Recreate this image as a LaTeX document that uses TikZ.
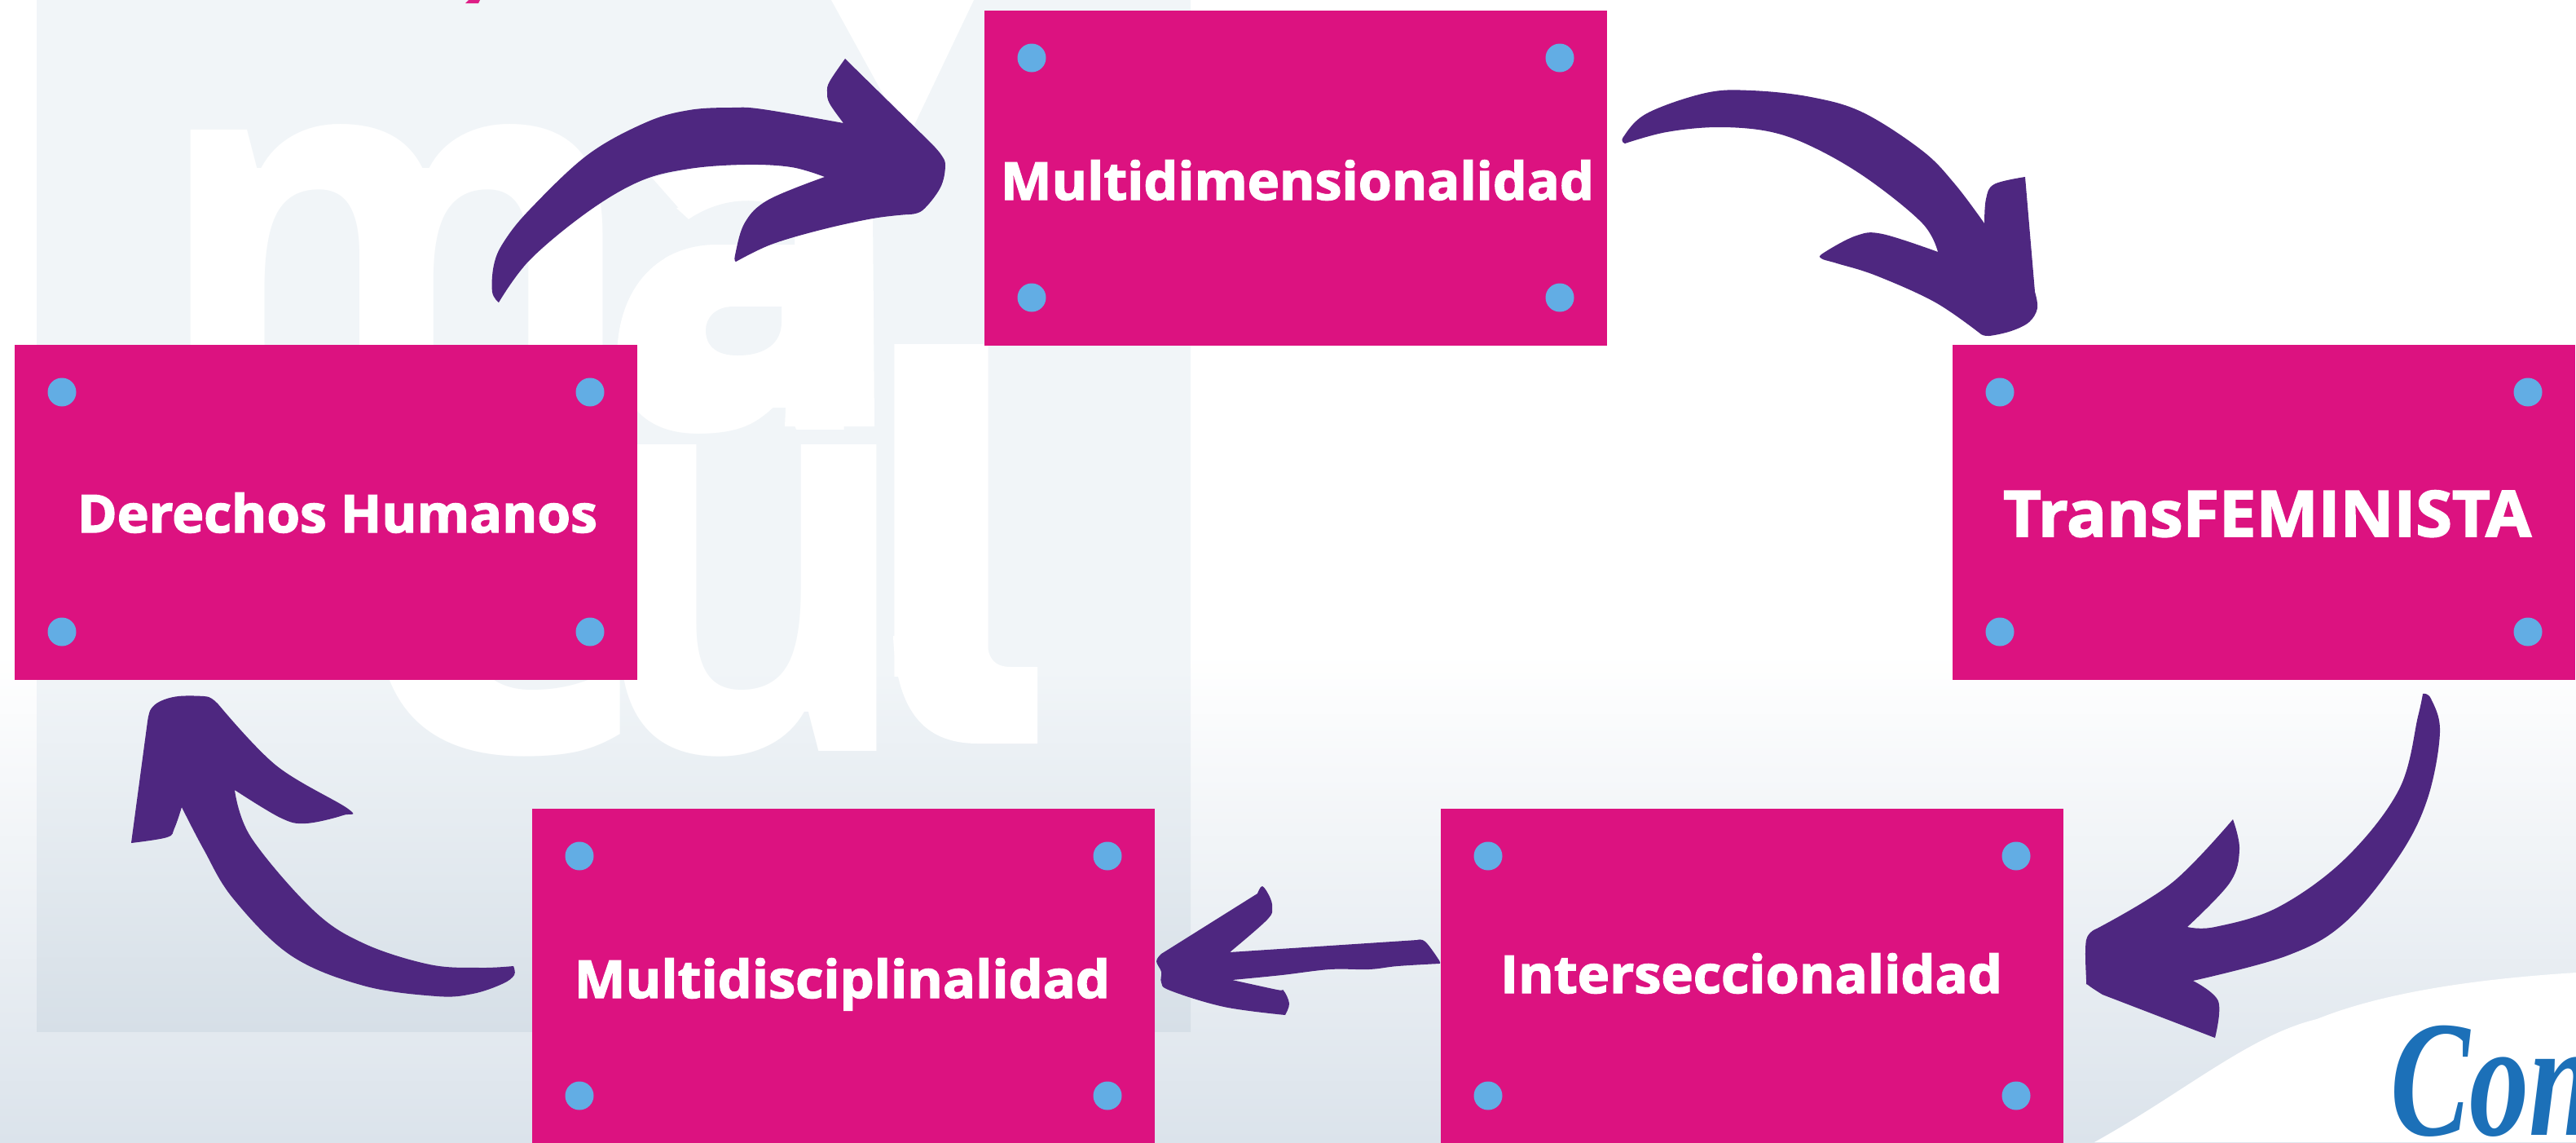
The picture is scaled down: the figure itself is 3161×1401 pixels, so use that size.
\documentclass[tikz,border=0pt]{standalone}
\usepackage{graphicx}
\usepackage{fontspec}
\setmainfont{Open Sans}
\newfontfamily\xb{Open Sans}[BoldFeatures={FakeBold=2.2}]
\newfontfamily\wmf{Open Sans}
\newfontfamily\scriptf{Liberation Serif}
\usetikzlibrary{calc}
\definecolor{mag}{HTML}{DC1280}
\definecolor{pur}{HTML}{4E2780}
\definecolor{dotc}{HTML}{62ADE4}
\definecolor{panel}{HTML}{F1F5F8}
\definecolor{panelb}{HTML}{D6DFE7}
\definecolor{pageb}{HTML}{DBE3EB}
\definecolor{conb}{HTML}{1C70B8}
\newcommand\fitw[2]{\resizebox{#1pt}{\height}{#2}}
\newcommand\fitwh[3]{\resizebox{#1pt}{#2pt}{#3}}
\tikzset{
  boxn/.style={rectangle,fill=mag,draw=none,minimum width=764pt,minimum height=411pt,anchor=north west,inner sep=0pt,outer sep=0pt},
  dotn/.style={fill=dotc},
  lab/.style={anchor=base west,inner sep=0pt,outer sep=0pt,text=white,font={\xb\bfseries\fontsize{64}{70}\selectfont}},
  wm/.style={anchor=base west,inner sep=0pt,outer sep=0pt,text=white,font={\wmf\bfseries\fontsize{700}{700}\selectfont}},
  flow/.style={fill=pur,draw=none,smooth,tension=.6},
}
\begin{document}
\begin{tikzpicture}[x=1pt,y=-1pt]
\useasboundingbox (0,0) rectangle (3161,1401);
% page ground
\fill[white] (0,0) rectangle (3161,1401);
\shade[top color=white,bottom color=pageb] (0,800) rectangle (3161,1401);
% panel
\fill[panel] (45,0) rectangle (1461,821);
\shade[top color=panel,bottom color=panelb] (45,820) rectangle (1461,1265);
% watermark
\fill[white] (1020,0) -- (1195,0) -- (1071,260) -- (1073,523) -- (963,523) -- (975,262) -- (845,269)
  -- (800,218) -- (1000,170) -- (1086,120) -- cycle;
\node[wm] (wmm) at (186,527) {\fitwh{599}{375}{m}};
\node[wm] (wma) at (738,527) {\fitwh{340}{282}{a}};
\fill[white] (757,440) .. controls (757,350) and (810,300) .. (879,300) -- (1071,300) -- (1071,500) -- (800,500) -- cycle;
\fill[panel] (754,423) -- (757,420) .. controls (760,350) and (810,300) .. (879,300) -- (975,300) -- (975,262)
  .. controls (955,248) and (900,232) .. (845,269) -- (793,222) -- (754,240) -- cycle;
\fill[panel] (959,376) -- (900,376) .. controls (878,376) and (866,390) .. (866,405) .. controls (866,425) and (880,436) .. (905,436)
  .. controls (940,436) and (959,420) .. (959,395) -- cycle;
\node[wm] (wmc) at (430,921) {\fitwh{365}{376}{c}};
\node[wm] (wmu) at (715,921) {\fitwh{409}{376}{u}};
\node[wm] (wml) at (1037,830) {\fitwh{236}{408}{l}};
\fill[white] (1096,780) .. controls (1100,880) and (1140,912) .. (1200,912) -- (1273,912) -- (1273,818) -- (1240,818)
  .. controls (1218,818) and (1211,805) .. (1211,780) -- cycle;
% wave
\fill[white] (2570,1401) .. controls (2680,1340) and (2760,1270) .. (2843,1250)
  .. controls (2930,1215) and (3050,1200) .. (3161,1193) -- (3161,1401) -- cycle;
\node[anchor=base west,inner sep=0pt,text=conb,font={\scriptf\bfseries\itshape\fontsize{203}{210}\selectfont}] (con) at (2933,1392) {\scalebox{.72}[1]{Con}};
% clipped mark at the top
\fill[mag!95!white] (575,0) -- (589,0) -- (587,4) -- (571,4) -- cycle;
% boxes
\node[boxn] (multidim) at (1208,13) {};
\node[boxn] (derechos) at (18,423) {};
\node[boxn] (trans) at (2396,423) {};
\node[boxn] (inter) at (1768,992) {};
\node[boxn] (multidis) at (653,992) {};
\foreach \b in {multidim,derechos,trans,inter,multidis}{
  \foreach \dx/\dy in {58/58,706/58,58/352,706/352}{
    \fill[dotn] ($(\b.north west)+(\dx,\dy)$) circle (17.5);
  }
}
% labels
\node[lab] (t1) at (1228,245) {\fitw{728}{Multidimensionalidad}};
\node[lab] (t2) at (95,653) {\fitw{638}{Derechos Humanos}};
\node[lab,font={\xb\bfseries\fontsize{78}{84}\selectfont}] (t3) at (2458,658) {\fitw{648}{TransFEMINISTA}};
\node[lab] (t4) at (1841,1218) {\fitw{616}{Interseccionalidad}};
\node[lab] (t5) at (705,1224) {\fitw{657}{Multidisciplinalidad}};
% arrow ends
\coordinate (a1s) at (650,319);
\coordinate (a1e) at (1160,203);
\coordinate (a2s) at (1994,176);
\coordinate (a2e) at (2500,378);
\coordinate (a3s) at (2973,851);
\coordinate (a3e) at (2560,1202);
\coordinate (a4s) at (1766,1178);
\coordinate (a4e) at (1419,1179);
\coordinate (a5s) at (630,1185);
\coordinate (a5e) at (219,854);
% arrow 1
\fill[flow] plot coordinates {(612,371) (604,358) (606,325) (618,297) (650,257) (721,190) (793,150) (846,135) (898,132) (936,134) (1035,151)}
  -- plot coordinates {(1035,151) (1018,127) (1015,113) (1018,100) (1037,72)}
  -- (1144,177)
  -- plot coordinates {(1144,177) (1155,190) (a1e) (1154,230) (1132,258) (1114,263)}
  -- plot coordinates {(1114,263) (1071,268) (1007,282) (946,300) (903,321)}
  -- plot coordinates {(903,321) (902,313) (914,273) (943,245) (1012,217)}
  -- plot coordinates {(1012,217) (971,205) (914,202) (846,207) (786,222) (721,260) (a1s) (612,371)} -- cycle;
% arrow 2
\fill[flow] plot coordinates {(a2s) (1992,168) (2021,139) (2093,114) (2149,111) (2222,119) (2286,138) (2359,185) (2399,226) (2435,274)}
  -- plot coordinates {(2435,274) (2437,244) (2447,226) (2485,217)}
  -- (2497,358)
  -- plot coordinates {(2497,358) (a2e) (2490,395) (2468,406) (2441,412) (2431,410)}
  -- plot coordinates {(2431,410) (2375,371) (2302,338) (2254,323) (2235,317) (2238,310) (2278,289) (2310,287) (2378,309)}
  -- plot coordinates {(2378,309) (2359,274) (2294,221) (2230,183) (2174,162) (2109,156) (2045,162) (a2s)} -- cycle;
% arrow 3
\fill[flow] plot coordinates {(a3s) (2983,857) (2994,898) (2979,979) (2944,1050) (2878,1131) (2807,1172) (2691,1203)}
  -- plot coordinates {(2691,1203) (2722,1228) (2718,1273)}
  -- (2580,1220)
  -- plot coordinates {(2580,1220) (2562,1208) (a3e) (2560,1153) (2573,1139)}
  -- plot coordinates {(2573,1139) (2665,1083) (2740,1005)}
  -- plot coordinates {(2740,1005) (2748,1042) (2736,1083) (2684,1137)}
  -- plot coordinates {(2684,1137) (2718,1137) (2795,1113) (2878,1053) (2944,968) (2967,879) (a3s)} -- cycle;
% arrow 4
\fill[flow] plot coordinates {(1766,1182) (1715,1185) (1680,1189) (1632,1189) (1573,1196) (1512,1202)}
  -- plot coordinates {(1512,1202) (1567,1214) (1575,1215) (1582,1231) (1577,1245)}
  -- plot coordinates {(1577,1245) (1502,1235) (1436,1215) (1425,1205) (1425,1192) (a4e) (1425,1170)}
  -- (1543,1096)
  -- plot coordinates {(1543,1096) (1549,1087) (1558,1100) (1561,1113) (1555,1128) (1509,1168)}
  -- (1739,1153)
  -- plot coordinates {(1739,1153) (1749,1155) (a4s) (1766,1182)} -- cycle;
% arrow 5
\fill[flow] plot coordinates {(a5s) (631,1196) (616,1207) (580,1219) (536,1222) (446,1209) (357,1172) (286,1102) (250,1042) (223,990)}
  -- plot coordinates {(223,990) (214,1016) (205,1027) (161,1034)}
  -- (181,885)
  -- plot coordinates {(181,885) (185,870) (197,860) (a5e) (250,854) (260,857) (268,864)}
  -- plot coordinates {(268,864) (339,939) (427,992) (421,1000) (375,1010) (344,1003) (288,969)}
  -- plot coordinates {(288,969) (308,1027) (384,1116) (446,1157) (527,1183) (589,1187) (a5s)} -- cycle;
\end{tikzpicture}
\end{document}
